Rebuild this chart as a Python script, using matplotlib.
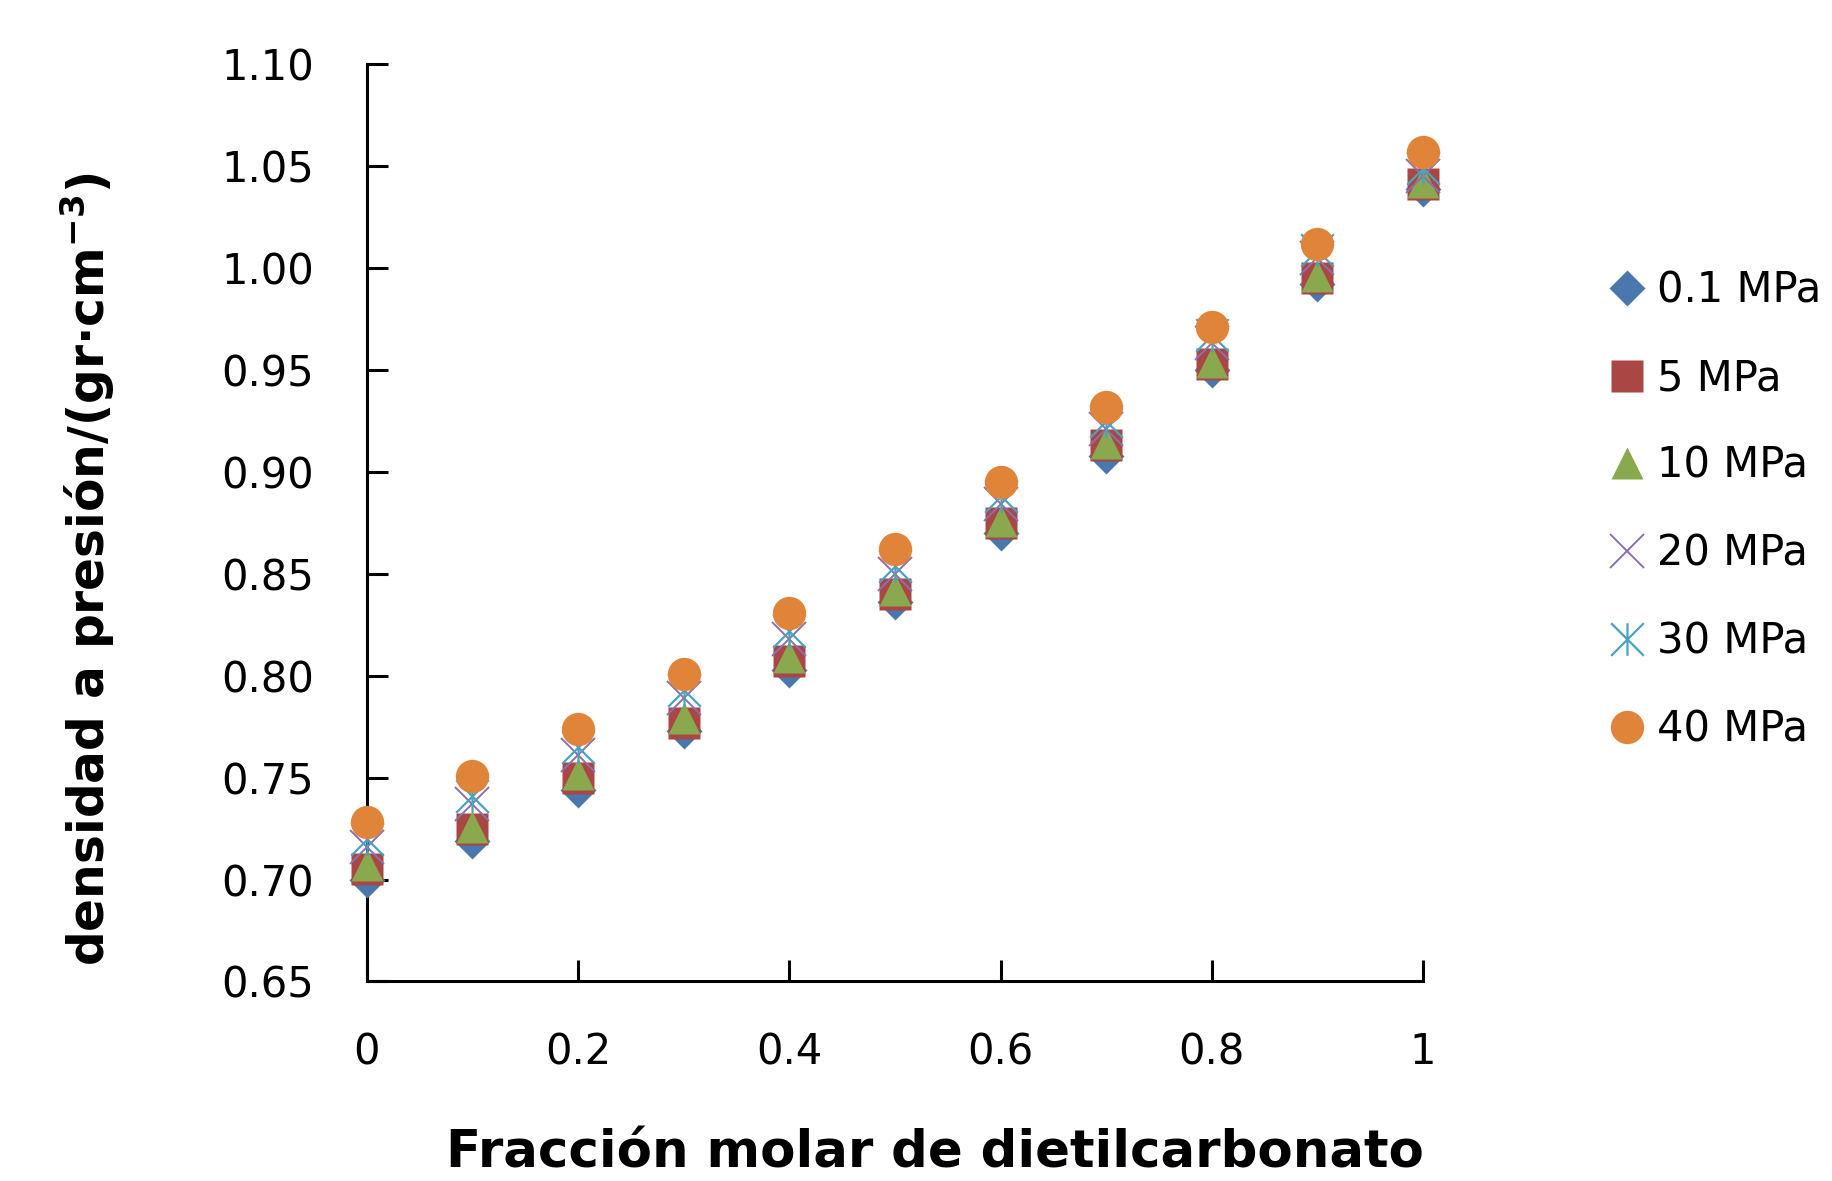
import matplotlib
matplotlib.use('Agg')
import matplotlib.pyplot as plt
from matplotlib.path import Path

# ---- data ----
x_frac = [0.0, 0.1, 0.2, 0.3, 0.4, 0.5, 0.6, 0.7, 0.8, 0.9, 1.0]
rho_01 = [0.700, 0.719, 0.744, 0.773, 0.803, 0.836, 0.870, 0.908, 0.950, 0.992, 1.039]
rho_5 = [0.705, 0.725, 0.750, 0.777, 0.807, 0.840, 0.875, 0.913, 0.953, 0.995, 1.041]
rho_10 = [0.707, 0.726, 0.752, 0.779, 0.809, 0.842, 0.876, 0.914, 0.954, 0.996, 1.042]
rho_20 = [0.716, 0.737, 0.761, 0.789, 0.818, 0.850, 0.884, 0.921, 0.963, 1.005, 1.045]
rho_30 = [0.720, 0.741, 0.765, 0.793, 0.822, 0.854, 0.888, 0.925, 0.967, 1.009, 1.049]
rho_40 = [0.728, 0.751, 0.774, 0.801, 0.831, 0.862, 0.895, 0.932, 0.971, 1.012, 1.057]
series_labels = ['0.1 MPa', '5 MPa', '10 MPa', '20 MPa', '30 MPa', '40 MPa']
xtick_vals = [0, 0.2, 0.4, 0.6, 0.8, 1.0]
xtick_labels = ['0', '0.2', '0.4', '0.6', '0.8', '1']
ytick_vals = [0.65, 0.70, 0.75, 0.80, 0.85, 0.90, 0.95, 1.00, 1.05, 1.10]
ytick_labels = ['0.65', '0.70', '0.75', '0.80', '0.85', '0.90', '0.95', '1.00', '1.05', '1.10']
x_label = 'Fracción molar de dietilcarbonato'
y_label = r'densidad a presión/(gr·cm$^{\mathregular{-3}}$)'

# asterisk marker (vertical bar + X)
star = Path([(0, -1), (0, 1), (-1, -1), (1, 1), (-1, 1), (1, -1)],
            [Path.MOVETO, Path.LINETO] * 3)

styles = [
    dict(marker='D', ms=18, color='#4A78AE', mec='none'),
    dict(marker='s', ms=23.5, color='#AA4643', mec='none'),
    dict(marker='^', ms=23.5, color='#8AA84E', mec='none'),
    dict(marker='x', ms=25, color='#8A70AE', mew=1.4),
    dict(marker=star, ms=23.5, color='#4AA3BE', mew=1.6),
    dict(marker='o', ms=24, color='#E0843A', mec='none'),
]
series = [rho_01, rho_5, rho_10, rho_20, rho_30, rho_40]

fig = plt.figure(figsize=(18.32, 11.81), dpi=100)
ax = fig.add_axes([0.2002, 0.169, 0.5766, 0.7766])

handles = []
for ys, st, lab in zip(series, styles, series_labels):
    h, = ax.plot(x_frac, ys, linestyle='none', label=lab, clip_on=False,
                 zorder=5, **st)
    handles.append(h)

ax.set_xlim(0, 1)
ax.set_ylim(0.65, 1.10)
ax.set_xticks(xtick_vals)
ax.set_xticklabels(xtick_labels)
ax.set_yticks(ytick_vals)
ax.set_yticklabels(ytick_labels)

for s in ['top', 'right']:
    ax.spines[s].set_visible(False)
for s in ['left', 'bottom']:
    ax.spines[s].set_linewidth(2.2)
    ax.spines[s].set_zorder(2)

ax.tick_params(axis='both', direction='in', length=15, width=2.2,
               labelsize=30, colors='black')
ax.tick_params(axis='y', pad=38)
ax.tick_params(axis='x', pad=36)
for lbl in ax.get_xticklabels() + ax.get_yticklabels():
    lbl.set_fontfamily('DejaVu Sans')

fig.text(0.5104, 0.0229, x_label, ha='center', va='center',
         fontsize=37, fontweight='bold', family='DejaVu Sans')
fig.text(0.048, 0.518, y_label, ha='center', va='center', rotation=90,
         fontsize=35, fontweight='bold', family='DejaVu Sans')

fig.legend(handles, series_labels, loc='upper left',
           bbox_to_anchor=(0.877, 0.772), frameon=False,
           prop={'family': 'DejaVu Sans', 'size': 30},
           labelspacing=1.1, handlelength=1.0, handletextpad=0.2,
           borderpad=0, borderaxespad=0)

fig.savefig('out.png', dpi=100)
